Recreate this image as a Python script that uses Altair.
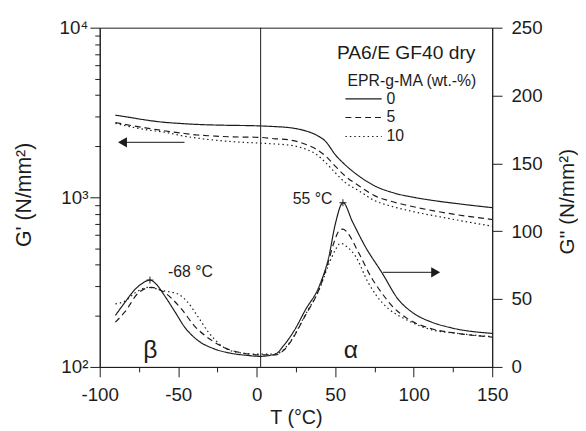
import altair as alt
import pandas as pd

# ---------------- data ----------------
SERIES = ["0", "5", "10"]

# storage modulus G' (left, log axis)
GP0_T = [-90, -80, -70, -60, -50, -38, -20, 0, 12, 20, 26, 32, 38, 44, 50, 56, 65, 75, 88, 100, 110, 128, 150]
GP0_V = [3050, 2950, 2850, 2775, 2730, 2690, 2660, 2640, 2610, 2580, 2530, 2450, 2330, 2130, 1785, 1565, 1337, 1170, 1057, 1000, 965, 917, 869]
GP5_T = [-90, -80, -70, -58, -48, -38, -28, -17, 2, 12, 20, 26, 32, 38, 44, 50, 56, 65, 75, 85, 96, 117, 150]
GP5_V = [2760, 2650, 2560, 2460, 2390, 2330, 2300, 2273, 2256, 2213, 2185, 2130, 2040, 1920, 1746, 1527, 1345, 1170, 1023, 950, 896, 819, 740]
GP10_T = [-90, -80, -70, -58, -48, -38, -28, -17, 2, 12, 20, 26, 32, 38, 44, 50, 56, 65, 75, 85, 96, 117, 150]
GP10_V = [2730, 2600, 2500, 2415, 2310, 2235, 2180, 2134, 2087, 2061, 2035, 1990, 1910, 1790, 1597, 1397, 1230, 1094, 957, 890, 838, 766, 676]

# loss modulus G'' (right, linear axis)
GPP0_T = [-90, -84, -78, -73, -68, -64, -59, -52, -46, -38, -27, -17, -6, 2, 12, 17, 24, 31, 40, 46, 50, 55, 61, 69, 80, 90, 100, 111, 124, 150]
GPP0_V = [38, 47.5, 56.5, 61.5, 64, 61, 53, 40.5, 29.5, 20, 13.3, 10.2, 8.5, 7.8, 9.5, 15.5, 27, 42, 60, 81.5, 105, 121, 107, 89, 69, 50, 39.5, 33.2, 28.8, 24.7]
GPP5_T = [-90, -84, -75, -67, -59, -48, -40, -29, -17, 2, 12, 17, 21, 31, 40, 46, 49, 53, 55, 58, 65, 73, 80, 86, 96, 111, 128, 150]
GPP5_V = [33, 40.5, 55, 58.6, 55, 42.8, 30.7, 19.8, 12.6, 8.9, 8.8, 12, 17.5, 38, 58, 79, 91, 101, 101.6, 98.5, 84, 66, 54, 45.2, 35.6, 28.3, 24.7, 22]
GPP10_T = [-90, -84, -77, -69, -59, -50, -44, -38, -31, -23, -13, 2, 12, 17, 21, 31, 40, 46, 50, 53.4, 57, 63, 71, 76, 84, 94, 111, 128, 150]
GPP10_V = [46.5, 48.5, 55, 58.6, 56, 53.7, 47.7, 38, 26, 16.2, 10.9, 9.4, 9.6, 12.5, 18, 38.5, 57.5, 76, 86, 91.2, 89, 81.5, 62.2, 53, 42.8, 35.6, 27.5, 24.7, 22.3]

# axes
X_DOMAIN = [-100, 150]
X_TICKS = [-100, -50, 0, 50, 100, 150]
X_MINOR = [-75, -25, 25, 75, 125]
GP_DOMAIN = [100, 10000]
GP_TICKS = [100, 1000, 10000]
GP_TICK_LABELS = ["10²", "10³", "10⁴"]
GP_MINOR = [200, 300, 400, 500, 600, 700, 800, 900, 2000, 3000, 4000, 5000, 6000, 7000, 8000, 9000]
GPP_DOMAIN = [0, 250]
GPP_TICKS = [0, 50, 100, 150, 200, 250]

# annotations (data units: T, G'')
VLINE_T = [2.5]
TITLE_TXT = ["PA6/E GF40 dry"]
TITLE_T = [139.3]
TITLE_V = [231]
SUB_TXT = ["EPR-g-MA (wt.-%)"]
SUB_T = [139.9]
SUB_V = [211]
LEG_T1 = [56.5, 56.5, 56.5]
LEG_T2 = [79.6, 79.6, 79.6]
LEG_V = [197.6, 183.8, 169.8]
LEG_LABEL_T = [82.7, 82.7, 82.7]
PEAK_TXT = ["-68 °C", "55 °C"]
PEAK_TXT_T = [-56.5, 23]
PEAK_TXT_V = [70, 123.4]
PEAK_T = [-68, 54.9]
PEAK_V = [64, 121]
GREEK_TXT = ["β", "α"]
GREEK_T = [-67.8, 60]
GREEK_V = [6.5, 6.5]
ARROW_T1 = [-85.5, 80.4]
ARROW_T2 = [-46, 114]
ARROW_V = [165.5, 69.7]
HEAD_LEFT_T = [-85.5]
HEAD_RIGHT_T = [114]

DASHES = [[1, 0], [6, 4], [1.5, 3]]
INK = "#1c1c1c"
FONT = "Liberation Sans"


def long(T, V, s):
    return pd.DataFrame({"T": T, "v": V, "s": s})


gp = pd.concat([long(GP0_T, GP0_V, "0"), long(GP5_T, GP5_V, "5"), long(GP10_T, GP10_V, "10")])
gpp = pd.concat([long(GPP0_T, GPP0_V, "0"), long(GPP5_T, GPP5_V, "5"), long(GPP10_T, GPP10_V, "10")])

X_SCALE = alt.Scale(domain=X_DOMAIN, nice=False, zero=False)
GP_SCALE = alt.Scale(type="log", domain=GP_DOMAIN, nice=False)
GPP_SCALE = alt.Scale(domain=GPP_DOMAIN, nice=False, zero=False)
dash = alt.StrokeDash("s:N", scale=alt.Scale(domain=SERIES, range=DASHES), legend=None)

gp_label_expr = " : ".join(
    f"datum.value == {v} ? '{l}'" for v, l in zip(GP_TICKS, GP_TICK_LABELS)
) + " : ''"

common_axis = dict(grid=False, domainColor=INK, tickColor=INK, labelColor=INK, titleColor=INK,
                   labelFont=FONT, titleFont=FONT, titleFontWeight="normal", domainWidth=1, tickWidth=1)

gp_major = alt.Chart(gp).mark_line(color=INK, strokeWidth=1.2, interpolate="monotone").encode(
    x=alt.X("T:Q", scale=X_SCALE, axis=alt.Axis(
        orient="bottom", values=X_TICKS, labelExpr="'' + datum.value", tickSize=10,
        labelFontSize=19, labelPadding=9, labelFlush=False, title="T (°C)", titleFontSize=20,
        titleY=57, titleBaseline="alphabetic", **common_axis)),
    y=alt.Y("v:Q", scale=GP_SCALE, axis=alt.Axis(
        orient="left", values=GP_TICKS, labelExpr=gp_label_expr, tickSize=10,
        labelFontSize=19, labelPadding=2, title="G' (N/mm²)", titleFontSize=21.5,
        titleAngle=270, titleX=-76, titleY=169, titleAlign="center", titleBaseline="middle",
        **common_axis)),
    strokeDash=dash,
)

gp_minor = alt.Chart(gp).mark_line(opacity=0).encode(
    x=alt.X("T:Q", scale=X_SCALE, axis=alt.Axis(
        orient="bottom", values=X_MINOR, tickSize=5, labels=False, domain=False,
        title=None, grid=False, tickColor=INK, tickWidth=1)),
    y=alt.Y("v:Q", scale=GP_SCALE, axis=alt.Axis(
        orient="left", values=GP_MINOR, tickSize=5, labels=False, domain=False,
        title=None, grid=False, tickColor=INK, tickWidth=1)),
    detail="s:N",
)

gpp_lines = alt.Chart(gpp).mark_line(color=INK, strokeWidth=1.2, interpolate="monotone").encode(
    x=alt.X("T:Q", scale=X_SCALE, axis=None),
    y=alt.Y("v:Q", scale=GPP_SCALE, axis=alt.Axis(
        orient="right", values=GPP_TICKS, tickSize=10, labelPadding=9, labelFontSize=19,
        title="G'' (N/mm²)", titleFontSize=21, titleAngle=270, titleX=76, titleY=176,
        titleAlign="center", titleBaseline="middle", **common_axis)),
    strokeDash=dash,
)


def xy(chart, x2=False):
    enc = dict(x=alt.X("T:Q", scale=X_SCALE, axis=None),
               y=alt.Y("v:Q", scale=GPP_SCALE, axis=None))
    if x2:
        enc["x2"] = alt.X2("T2:Q")
    return chart.encode(**enc)


vline = alt.Chart(pd.DataFrame({"T": VLINE_T})).mark_rule(color=INK, strokeWidth=1).encode(
    x=alt.X("T:Q", scale=X_SCALE, axis=None))

title_txt = xy(alt.Chart(pd.DataFrame({"T": TITLE_T, "v": TITLE_V, "t": TITLE_TXT})).mark_text(
    align="right", baseline="middle", fontSize=19.5, font=FONT, color=INK)).encode(text="t:N")
sub_txt = xy(alt.Chart(pd.DataFrame({"T": SUB_T, "v": SUB_V, "t": SUB_TXT})).mark_text(
    align="right", baseline="middle", fontSize=16, font=FONT, color=INK)).encode(text="t:N")

leg_lines = xy(alt.Chart(pd.DataFrame({"T": LEG_T1, "T2": LEG_T2, "v": LEG_V, "s": SERIES})).mark_rule(
    color=INK, strokeWidth=1.2), x2=True).encode(strokeDash=dash)
leg_txt = xy(alt.Chart(pd.DataFrame({"T": LEG_LABEL_T, "v": LEG_V, "s": SERIES})).mark_text(
    align="left", baseline="middle", fontSize=16, font=FONT, color=INK)).encode(text="s:N")

peak_txt = xy(alt.Chart(pd.DataFrame({"T": PEAK_TXT_T, "v": PEAK_TXT_V, "t": PEAK_TXT})).mark_text(
    align="left", baseline="middle", fontSize=16, font=FONT, color=INK)).encode(text="t:N")
peak_mark = xy(alt.Chart(pd.DataFrame({"T": PEAK_T, "v": PEAK_V})).mark_point(
    shape="M-1,0H1M0,-1V1", filled=False, size=50, strokeWidth=1, color=INK, opacity=1))

greek_txt = xy(alt.Chart(pd.DataFrame({"T": GREEK_T, "v": GREEK_V, "t": GREEK_TXT})).mark_text(
    align="center", baseline="alphabetic", fontSize=25, font=FONT, color=INK)).encode(text="t:N")

arrows = xy(alt.Chart(pd.DataFrame({"T": ARROW_T1, "T2": ARROW_T2, "v": ARROW_V})).mark_rule(
    color="#444444", strokeWidth=1.4), x2=True)
head_l = xy(alt.Chart(pd.DataFrame({"T": HEAD_LEFT_T, "v": ARROW_V[:1]})).mark_point(
    shape="triangle-left", filled=True, size=110, color=INK, opacity=1))
head_r = xy(alt.Chart(pd.DataFrame({"T": HEAD_RIGHT_T, "v": ARROW_V[1:]})).mark_point(
    shape="triangle-right", filled=True, size=110, color=INK, opacity=1))

chart = alt.layer(
    gp_major, gp_minor, gpp_lines, vline, title_txt, sub_txt, leg_lines, leg_txt,
    peak_txt, peak_mark, greek_txt, arrows, head_l, head_r,
).resolve_scale(x="independent", y="independent").properties(
    width=398, height=344,
    padding={"left": 93, "top": 17, "right": 87, "bottom": 62},
    autosize=alt.AutoSizeParams(type="none"),
    background="white",
).configure(font=FONT).configure_view(stroke=INK, strokeWidth=1)

chart.save("out.html", embed_options={"renderer": "svg", "actions": False})
